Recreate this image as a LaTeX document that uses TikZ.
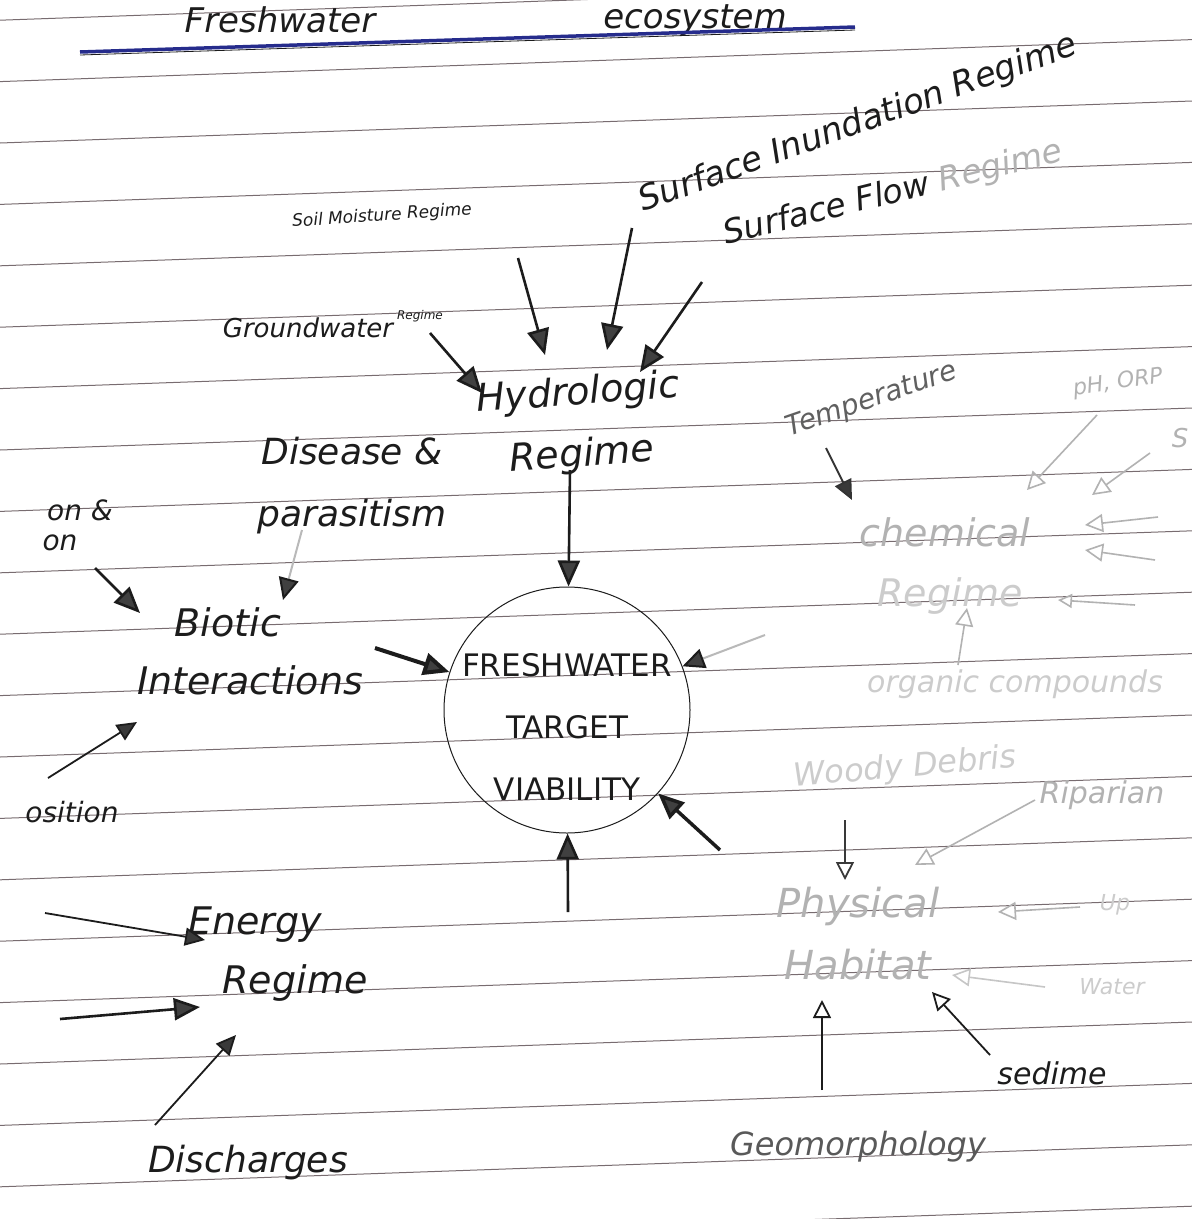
\documentclass[tikz,border=0pt]{standalone}
\usepackage{fontspec}
\setmainfont{DejaVu Sans}
\usetikzlibrary{arrows.meta}
\definecolor{ink}{RGB}{28,28,28}
\definecolor{penblue}{RGB}{38,44,140}
\definecolor{ruled}{RGB}{120,108,112}
\tikzset{
  mainlbl/.style={font=\itshape\fontsize{38}{62}\selectfont, text=ink, inner sep=0pt, align=center},
  sublbl/.style={font=\itshape\fontsize{28}{32}\selectfont, text=ink, inner sep=0pt},
  faintlbl/.style={text=gray!60},
  fainterlbl/.style={text=gray!40},
  ruleline/.style={draw=ruled, line width=1pt},
  hv/.style={draw=ink, line width=2.6pt, -{Triangle[length=26pt,width=22pt,fill=gray!50!black]}},
  md/.style={draw=ink, line width=1.8pt, -{Triangle[length=20pt,width=18pt,fill=gray!45!black]}},
  gr/.style={draw=gray!55, line width=2pt, -{Triangle[length=22pt,width=20pt,fill=gray!50!black,color=ink]}},
  op/.style={draw=gray!60, line width=1.6pt, -{Triangle[open,length=18pt,width=18pt]}},
  opd/.style={draw=ink, line width=1.8pt, -{Triangle[open,length=18pt,width=18pt]}},
}
\begin{document}
\begin{tikzpicture}[x=1pt,y=-1pt]
\useasboundingbox (0,0) rectangle (1192,1219);
\fill[white] (0,0) rectangle (1192,1219);

% notebook ruling
\foreach \k in {-7,...,13} {\draw[ruleline] (0,{450+61.4*\k}) -- (1192,{450+61.4*\k-42});}

% title
\node[mainlbl, anchor=base, font=\itshape\fontsize{34}{36}\selectfont] (t1) at (280,32) {Freshwater};
\node[mainlbl, anchor=base, font=\itshape\fontsize{34}{36}\selectfont] (t2) at (695,28) {ecosystem};
\draw[penblue, line width=3.5pt] (80,52) -- (855,27);
\draw[ink, line width=0.8pt] (80,55) -- (855,30);

% central circle
\node[draw=ink, line width=1pt, circle, minimum size=246pt, inner sep=0pt] (fw) at (567,710) {};
\node[font=\fontsize{31}{62}\selectfont, text=ink, align=center, inner sep=0pt] (fwt) at (567,727) {FRESHWATER\\TARGET\\VIABILITY};

% hydrologic
\node[mainlbl, rotate=4] (hyd) at (580,425) {Hydrologic\\Regime};
\node[sublbl, font=\itshape\fontsize{26}{30}\selectfont] (gw) at (308,328) {Groundwater};
\node[sublbl, font=\itshape\fontsize{12}{14}\selectfont] (gwr) at (420,316) {Regime};
\node[sublbl, font=\itshape\fontsize{17}{19}\selectfont, rotate=4] (soil) at (382,216) {Soil Moisture Regime};
\node[sublbl, font=\itshape\fontsize{34}{36}\selectfont, rotate=20] (inund) at (858,124) {Surface Inundation Regime};
\node[sublbl, font=\itshape\fontsize{33}{36}\selectfont, rotate=14] (flow) at (893,194) {Surface Flow {\color{gray!60}Regime}};

\coordinate (gwS) at (430,333);   \coordinate (gwE) at (482,393);
\coordinate (soilS) at (518,258); \coordinate (soilE) at (545,355);
\coordinate (inS) at (632,228);   \coordinate (inE) at (607,350);
\coordinate (flS) at (702,282);   \coordinate (flE) at (640,372);
\coordinate (hydS) at (570,470);
\draw[hv] (gwS) -- (gwE);
\draw[hv] (soilS) -- (soilE);
\draw[hv] (inS) -- (inE);
\draw[hv] (flS) -- (flE);
\draw[hv] (hydS) -- (fw);

% biotic
\node[mainlbl, font=\itshape\fontsize{36}{62}\selectfont] (dis) at (352,486) {Disease \&\\parasitism};
\node[sublbl] (on1) at (80,510) {on \&};
\node[sublbl] (on2) at (60,543) {on};
\node[mainlbl] (bio1) at (228,622) {Biotic};
\node[mainlbl] (bio2) at (250,680) {Interactions};
\node[sublbl] (osi) at (72,812) {osition};
\coordinate (disS) at (302,530);  \coordinate (disE) at (283,600);
\coordinate (onS) at (95,568);    \coordinate (onE) at (140,613);
\coordinate (bioS) at (375,648);
\coordinate (osS) at (48,778);    \coordinate (osE) at (137,722);
\draw[gr] (disS) -- (disE);
\draw[hv] (onS) -- (onE);
\draw[hv, line width=4pt] (bioS) -- (fw);
\draw[md] (osS) -- (osE);

% energy
\node[mainlbl] (en1) at (255,925) {Energy};
\node[mainlbl] (en2) at (295,983) {Regime};
\node[mainlbl, font=\itshape\fontsize{36}{40}\selectfont] (dch) at (248,1163) {Discharges};
\coordinate (e1S) at (45,913);   \coordinate (e1E) at (205,940);
\coordinate (e2S) at (60,1019);  \coordinate (e2E) at (200,1007);
\coordinate (dS) at (155,1125);  \coordinate (dE) at (236,1035);
\draw[md] (e1S) -- (e1E);
\draw[hv] (e2S) -- (e2E);
\draw[md] (dS) -- (dE);

% other arrows into circle
\coordinate (chS) at (765,635);
\coordinate (phS) at (720,850);
\coordinate (btS) at (568,912);
\draw[gr] (chS) -- (fw);
\draw[hv, line width=3.5pt] (phS) -- (fw);
\draw[hv] (btS) -- (fw);

% chemical
\node[mainlbl, faintlbl] (chem) at (945,532) {chemical};
\node[mainlbl, fainterlbl] (chem2) at (950,596) {Regime};
\node[sublbl, font=\itshape\fontsize{28}{30}\selectfont, rotate=19, text=gray!75!black] (temp) at (872,400) {Temperature};
\node[sublbl, font=\itshape\fontsize{22}{24}\selectfont, rotate=8, faintlbl] (ph) at (1118,383) {pH, ORP};
\node[sublbl, font=\itshape\fontsize{26}{28}\selectfont, faintlbl] (s) at (1180,438) {S};
\node[sublbl, font=\itshape\fontsize{30}{32}\selectfont, fainterlbl] (org) at (1015,684) {organic compounds};
\coordinate (tS) at (826,448);   \coordinate (tE) at (852,500);
\coordinate (pS) at (1097,415);  \coordinate (pE) at (1027,490);
\coordinate (sS) at (1150,453);  \coordinate (sE) at (1092,495);
\coordinate (c1S) at (1158,517); \coordinate (c1E) at (1085,525);
\coordinate (c2S) at (1155,560); \coordinate (c2E) at (1085,550);
\coordinate (c3S) at (1135,605); \coordinate (c3E) at (1058,600);
\coordinate (oS) at (958,665);   \coordinate (oE) at (967,608);
\draw[md, draw=gray!40!black] (tS) -- (tE);
\draw[op] (pS) -- (pE);
\draw[op] (sS) -- (sE);
\draw[op] (c1S) -- (c1E);
\draw[op] (c2S) -- (c2E);
\draw[op, -{Triangle[open,length=14pt,width=14pt]}] (c3S) -- (c3E);
\draw[op] (oS) -- (oE);

% physical habitat
\node[mainlbl, faintlbl, font=\itshape\fontsize{40}{62}\selectfont] (phys) at (858,934) {Physical\\Habitat};
\node[sublbl, font=\itshape\fontsize{32}{34}\selectfont, rotate=5, fainterlbl] (woody) at (905,768) {Woody Debris};
\node[sublbl, font=\itshape\fontsize{30}{32}\selectfont, faintlbl] (rip) at (1102,795) {Riparian};
\node[sublbl, font=\itshape\fontsize{22}{24}\selectfont, fainterlbl] (up) at (1115,905) {Up};
\node[sublbl, font=\itshape\fontsize{22}{24}\selectfont, fainterlbl] (wat) at (1112,987) {Water};
\node[sublbl, font=\itshape\fontsize{30}{32}\selectfont] (sed) at (1052,1073) {sedime};
\node[sublbl, font=\itshape\fontsize{32}{34}\selectfont, text=gray!70!black] (geo) at (858,1147) {Geomorphology};
\coordinate (wS) at (845,820);   \coordinate (wE) at (845,880);
\coordinate (rS) at (1035,800);  \coordinate (rE) at (915,865);
\coordinate (uS) at (1080,907);  \coordinate (uE) at (998,912);
\coordinate (waS) at (1045,987); \coordinate (waE) at (952,975);
\coordinate (seS) at (990,1055); \coordinate (seE) at (932,992);
\coordinate (gS) at (822,1090);  \coordinate (gE) at (822,1000);
\draw[opd, draw=gray!45!black] (wS) -- (wE);
\draw[op] (rS) -- (rE);
\draw[op] (uS) -- (uE);
\draw[op, draw=gray!45] (waS) -- (waE);
\draw[opd] (seS) -- (seE);
\draw[opd] (gS) -- (gE);
\end{tikzpicture}
\end{document}
